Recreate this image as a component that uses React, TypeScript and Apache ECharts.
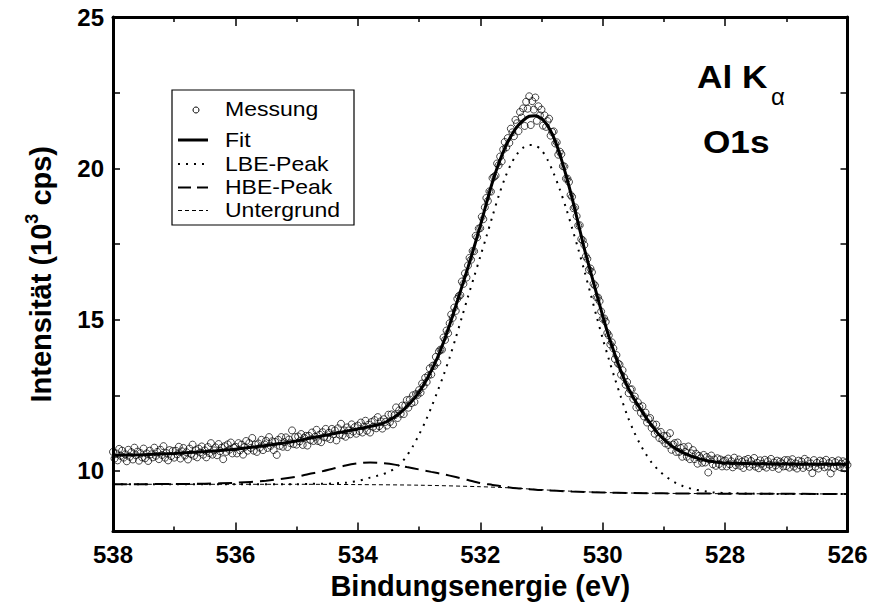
import React, { useEffect, useRef } from "react";
import * as echarts from "echarts";

// ---------- data ----------
// Measured spectrum, recorded every 0.025 eV from 538.000 eV down to 526.000 eV
const MESS_START_EV = 538.0;
const MESS_STEP_EV = 0.025;
const messungV = [
  // 538.000 - 537.025
  10.63, 10.41, 10.58, 10.35, 10.73, 10.50, 10.67, 10.44, 10.55, 10.32, 10.70, 10.47, 10.62, 10.38, 10.77, 10.52, 10.64, 10.34, 10.59, 10.45,
  10.74, 10.42, 10.58, 10.33, 10.67, 10.55, 10.45, 10.77, 10.50, 10.63, 10.39, 10.70, 10.53, 10.82, 10.44, 10.59, 10.35, 10.69, 10.49, 10.66,
  // 537.000 - 536.025
  10.44, 10.67, 10.55, 10.80, 10.41, 10.65, 10.76, 10.51, 10.62, 10.38, 10.74, 10.56, 10.87, 10.50, 10.69, 10.45, 10.74, 10.61, 10.81, 10.54,
  10.68, 10.45, 10.79, 10.59, 10.92, 10.54, 10.68, 10.78, 10.52, 10.89, 10.65, 10.77, 10.39, 10.82, 10.63, 10.88, 10.70, 10.94, 10.58, 10.77,
  // 536.000 - 535.025
  10.80, 10.58, 10.92, 10.68, 10.87, 10.54, 10.79, 10.99, 10.67, 10.92, 10.76, 11.09, 10.67, 10.87, 10.63, 10.91, 10.77, 11.03, 10.69, 10.88,
  11.00, 10.76, 11.12, 10.83, 10.98, 10.69, 10.96, 10.53, 11.03, 10.83, 11.12, 10.80, 10.95, 11.11, 10.79, 11.04, 10.92, 11.34, 10.89, 11.12,
  // 535.000 - 534.025
  10.87, 11.14, 10.98, 11.22, 10.86, 11.09, 11.16, 10.84, 11.16, 11.02, 11.27, 10.99, 11.13, 11.36, 10.99, 11.20, 10.95, 11.28, 11.12, 11.39,
  11.10, 11.26, 11.05, 11.39, 11.21, 11.34, 11.01, 11.41, 11.20, 11.56, 11.18, 11.34, 11.13, 11.44, 11.34, 11.21, 11.54, 11.30, 11.45, 11.23,
  // 534.000 - 533.025
  11.50, 11.32, 11.60, 11.27, 11.47, 11.66, 11.33, 11.53, 11.27, 11.62, 11.46, 11.68, 11.41, 11.78, 11.48, 11.64, 11.40, 11.71, 11.62, 11.50,
  11.86, 11.62, 11.87, 11.54, 11.84, 12.10, 11.75, 12.00, 11.89, 12.16, 11.88, 12.16, 12.34, 12.09, 12.36, 12.24, 12.50, 12.28, 12.54, 12.51,
  // 533.000 - 532.025
  12.67, 12.59, 12.89, 12.81, 13.08, 12.94, 13.15, 13.39, 13.19, 13.48, 13.47, 13.77, 13.59, 13.95, 14.01, 14.01, 14.41, 14.33, 14.64, 14.55,
  14.88, 15.17, 15.06, 15.40, 15.29, 15.69, 15.78, 15.81, 16.26, 16.18, 16.53, 16.39, 16.79, 17.04, 16.98, 17.27, 17.26, 17.77, 17.72, 18.01,
  // 532.000 - 531.025
  18.02, 18.40, 18.32, 18.71, 19.02, 18.92, 19.24, 19.23, 19.68, 19.72, 19.76, 20.16, 20.10, 20.39, 20.23, 20.62, 20.87, 20.69, 21.00, 20.84,
  21.31, 21.19, 21.06, 21.60, 21.49, 21.23, 21.86, 21.68, 21.98, 21.40, 22.20, 21.97, 22.38, 21.43, 22.22, 21.94, 22.34, 21.57, 22.05, 21.75,
  // 531.000 - 530.025
  21.94, 21.41, 21.75, 21.37, 21.56, 21.64, 21.08, 21.20, 21.22, 20.82, 20.86, 20.45, 20.55, 20.47, 20.07, 20.06, 19.66, 19.66, 19.55, 19.12,
  19.06, 18.68, 18.71, 18.42, 18.11, 18.12, 17.66, 17.62, 17.47, 17.09, 17.01, 16.65, 16.69, 16.57, 16.18, 16.13, 15.74, 15.73, 15.61, 15.27,
  // 530.000 - 529.025
  15.03, 15.04, 14.93, 14.56, 14.48, 14.18, 14.25, 14.05, 13.70, 13.83, 13.55, 13.52, 13.18, 13.33, 13.09, 12.85, 12.94, 12.57, 12.69, 12.70,
  12.38, 12.46, 12.10, 12.27, 12.12, 11.92, 12.14, 11.80, 11.93, 11.60, 11.71, 11.75, 11.42, 11.54, 11.23, 11.53, 11.28, 11.09, 11.29, 11.03,
  // 529.000 - 528.025
  11.16, 10.91, 11.15, 10.86, 11.25, 10.70, 10.87, 10.92, 10.63, 10.94, 10.63, 10.76, 10.47, 10.79, 10.63, 10.47, 10.81, 10.39, 10.58, 10.69,
  10.39, 10.57, 10.24, 10.50, 10.42, 10.27, 10.53, 10.28, 10.46, 9.95, 10.38, 10.51, 10.22, 10.38, 10.17, 10.42, 10.23, 10.38, 10.15, 10.33,
  // 528.000 - 527.025
  10.35, 10.15, 10.41, 10.22, 10.32, 10.12, 10.44, 10.19, 10.28, 10.38, 10.17, 10.31, 10.10, 10.36, 10.24, 10.40, 10.14, 10.33, 10.21, 10.43,
  10.14, 10.27, 10.09, 10.35, 10.24, 10.16, 10.37, 10.11, 10.32, 10.21, 10.40, 10.13, 10.28, 10.18, 10.34, 10.07, 10.31, 10.25, 10.15, 10.36,
  // 527.000 - 526.025
  10.16, 10.36, 10.11, 10.28, 10.39, 10.14, 10.25, 10.08, 10.34, 10.19, 10.31, 10.10, 10.40, 10.17, 10.33, 10.12, 10.25, 9.93, 10.36, 10.14,
  10.27, 10.08, 10.34, 10.20, 10.31, 10.12, 10.37, 10.15, 10.26, 9.92, 10.33, 10.10, 10.29, 10.17, 10.35, 10.13, 10.24, 10.32, 10.09, 10.28,
  // 526.000
  10.20,
];

// Energies of the fitted curves (eV)
const curveE = [
  538, 537.5, 537, 536.5, 536, 535.5, 535, 534.8, 534.6,
  534.5, 534.4, 534.3, 534.2, 534.1, 534.0, 533.9, 533.8, 533.7, 533.6,
  533.5, 533.4, 533.3, 533.2, 533.1, 533.0, 532.9, 532.8, 532.7, 532.6,
  532.5, 532.4, 532.3, 532.2, 532.1, 532.0, 531.9, 531.8, 531.7, 531.6,
  531.5, 531.4, 531.3, 531.2, 531.1, 531.0, 530.9, 530.8, 530.7, 530.6,
  530.5, 530.4, 530.3, 530.2, 530.1, 530.0, 529.9, 529.8, 529.7, 529.6,
  529.5, 529.4, 529.3, 529.2, 529.1, 529.0, 528.9, 528.8, 528.7, 528.6,
  528.5, 528.4, 528.3, 528.2, 528.1, 528.0, 527.5, 527, 526.5, 526,
];
const fitV = [
  10.52, 10.54, 10.58, 10.64, 10.72, 10.84, 10.99, 11.08, 11.15,
  11.19, 11.23, 11.27, 11.31, 11.35, 11.39, 11.43, 11.47, 11.51, 11.57,
  11.66, 11.78, 11.94, 12.13, 12.34, 12.61, 12.93, 13.31, 13.74, 14.25,
  14.83, 15.45, 16.09, 16.73, 17.40, 18.10, 18.84, 19.55, 20.15, 20.66,
  21.06, 21.37, 21.58, 21.72, 21.74, 21.64, 21.41, 21.02, 20.46, 19.78,
  19.02, 18.19, 17.35, 16.60, 15.86, 15.13, 14.45, 13.85, 13.29, 12.81,
  12.43, 12.10, 11.79, 11.51, 11.25, 11.04, 10.87, 10.73, 10.62, 10.53,
  10.45, 10.39, 10.34, 10.31, 10.28, 10.26, 10.24, 10.23, 10.22, 10.22,
];
const lbeV = [
  9.56, 9.56, 9.56, 9.56, 9.56, 9.56, 9.56, 9.57, 9.58,
  9.58, 9.59, 9.60, 9.61, 9.64, 9.67, 9.72, 9.78, 9.83, 9.89,
  9.96, 10.08, 10.25, 10.50, 10.82, 11.20, 11.62, 12.10, 12.62, 13.16,
  13.75, 14.40, 15.08, 15.76, 16.42, 17.08, 17.74, 18.42, 19.08, 19.66,
  20.13, 20.47, 20.68, 20.77, 20.75, 20.60, 20.28, 19.83, 19.30, 18.70,
  18.03, 17.34, 16.62, 15.87, 15.11, 14.38, 13.70, 13.05, 12.43, 11.84,
  11.35, 10.93, 10.58, 10.28, 10.05, 9.87, 9.72, 9.60, 9.51, 9.44,
  9.39, 9.35, 9.32, 9.29, 9.28, 9.27, 9.25, 9.24, 9.24, 9.24,
];

const hbeE = [
  538, 537, 536.5, 536, 535.5, 535, 534.8, 534.6, 534.4, 534.2, 534.0, 533.8, 533.6, 533.4, 533.2, 533.0,
  532.8, 532.6, 532.4, 532.2, 532.0, 531.8, 531.6, 531.4, 531.2, 531.0, 530.5, 530, 529.5, 529, 528, 526,
];
const hbeV = [
  9.56, 9.57, 9.58, 9.61, 9.68, 9.81, 9.90, 9.98, 10.08, 10.18, 10.25, 10.28, 10.26, 10.21, 10.13, 10.05,
  9.97, 9.89, 9.80, 9.70, 9.60, 9.54, 9.48, 9.43, 9.40, 9.37, 9.32, 9.29, 9.27, 9.26, 9.25, 9.24,
];

const bgE = [538, 535, 534, 533, 532, 531.5, 531, 530.5, 530, 529.5, 529, 528, 526];
const bgV = [9.56, 9.56, 9.55, 9.53, 9.48, 9.44, 9.38, 9.33, 9.29, 9.27, 9.26, 9.25, 9.24];

const xTicks = { min: 526, max: 538, interval: 2 };
const yTickValues = [10, 12.5, 15, 17.5, 20, 22.5, 25];
const yLabelValues = [10, 15, 20, 25];

const legendLabels = ["Messung", "Fit", "LBE-Peak", "HBE-Peak", "Untergrund"];

// ---------- chart ----------
const FONT = '"Liberation Sans", Arial, Helvetica, sans-serif';

function buildOption() {
  const messData = messungV.map((v, i) => [
    +(MESS_START_EV - i * MESS_STEP_EV).toFixed(3),
    v,
  ]);
  const pairs = (xs: number[], ys: number[]) => xs.map((x, i) => [x, ys[i]]);

  const axisLine = { show: true, onZero: false, lineStyle: { color: "#000", width: 3 } };
  const xCommon = {
    type: "value",
    min: xTicks.min,
    max: xTicks.max,
    interval: xTicks.interval,
    inverse: true,
    axisLine,
    axisTick: { show: true, inside: true, length: 9, lineStyle: { color: "#000", width: 1.5 } },
    minorTick: { show: true, splitNumber: 2, length: 5, lineStyle: { color: "#000", width: 1.5 } },
    splitLine: { show: false },
    minorSplitLine: { show: false },
  };
  const yCommon = {
    type: "value",
    min: 8,
    max: 25,
    axisLine,
    axisTick: {
      show: true,
      inside: true,
      length: 7,
      customValues: yTickValues,
      lineStyle: { color: "#000", width: 1.5 },
    },
    splitLine: { show: false },
  };

  const legendY = [109, 140, 164, 187.5, 210.5];
  const sx1 = 178;
  const sx2 = 208;

  return {
    animation: false,
    backgroundColor: "#ffffff",
    grid: { left: 113, right: 23.5, top: 17, bottom: 76.5 },
    xAxis: [
      {
        ...xCommon,
        position: "bottom",
        axisLabel: {
          color: "#000",
          fontSize: 24,
          fontWeight: "bold",
          fontFamily: FONT,
          margin: 11,
        },
        name: "Bindungsenergie (eV)",
        nameLocation: "middle",
        nameGap: 31,
        nameTextStyle: { color: "#000", fontSize: 29, fontWeight: "bold", fontFamily: FONT },
      },
      {
        ...xCommon,
        position: "top",
        axisLabel: { show: false },
      },
    ],
    yAxis: [
      {
        ...yCommon,
        position: "left",
        axisLabel: {
          color: "#000",
          fontSize: 24,
          fontWeight: "bold",
          fontFamily: FONT,
          margin: 9,
          customValues: yLabelValues,
        },
        name: "{a|Intensität (10}{s|3}{a| cps)}",
        nameLocation: "middle",
        nameGap: 55,
        nameRotate: 90,
        nameTextStyle: {
          color: "#000",
          fontSize: 29,
          fontWeight: "bold",
          fontFamily: FONT,
          rich: {
            a: { color: "#000", fontSize: 29, fontWeight: "bold", fontFamily: FONT, lineHeight: 35 },
            s: { color: "#000", fontSize: 18, fontWeight: "bold", fontFamily: FONT, verticalAlign: "top", lineHeight: 35 },
          },
        },
      },
      {
        ...yCommon,
        position: "right",
        axisLabel: { show: false },
      },
    ],
    series: [
      {
        name: "Messung",
        type: "scatter",
        data: messData,
        symbol: "circle",
        symbolSize: 7,
        silent: true,
        z: 2,
        itemStyle: { color: "rgba(0,0,0,0)", borderColor: "#000", borderWidth: 0.9 },
      },
      {
        name: "Untergrund",
        type: "line",
        data: pairs(bgE, bgV),
        showSymbol: false,
        smooth: 0.3,
        silent: true,
        z: 3,
        lineStyle: { color: "#000", width: 1, type: [4, 3] },
      },
      {
        name: "HBE-Peak",
        type: "line",
        data: pairs(hbeE, hbeV),
        showSymbol: false,
        smooth: 0.3,
        silent: true,
        z: 3,
        lineStyle: { color: "#000", width: 2, type: [14, 7] },
      },
      {
        name: "LBE-Peak",
        type: "line",
        data: pairs(curveE, lbeV),
        showSymbol: false,
        smooth: 0.3,
        silent: true,
        z: 3,
        lineStyle: { color: "#000", width: 2, type: [2, 6] },
      },
      {
        name: "Fit",
        type: "line",
        data: pairs(curveE, fitV),
        showSymbol: false,
        smooth: 0.3,
        silent: true,
        z: 4,
        lineStyle: { color: "#000", width: 3 },
      },
    ],
    graphic: [
      {
        type: "rect",
        shape: { x: 172, y: 90, width: 182, height: 135 },
        style: { fill: "none", stroke: "#000", lineWidth: 1.2 },
        silent: true,
      },
      {
        type: "circle",
        shape: { cx: 196, cy: legendY[0] + 1, r: 3 },
        style: { fill: "none", stroke: "#000", lineWidth: 1 },
        silent: true,
      },
      {
        type: "line",
        shape: { x1: sx1, y1: legendY[1], x2: sx2, y2: legendY[1] },
        style: { stroke: "#000", lineWidth: 3 },
        silent: true,
      },
      {
        type: "line",
        shape: { x1: sx1, y1: legendY[2], x2: sx2, y2: legendY[2] },
        style: { stroke: "#000", lineWidth: 2, lineDash: [2, 6] },
        silent: true,
      },
      {
        type: "line",
        shape: { x1: sx1, y1: legendY[3], x2: sx2, y2: legendY[3] },
        style: { stroke: "#000", lineWidth: 2, lineDash: [13, 6] },
        silent: true,
      },
      {
        type: "line",
        shape: { x1: sx1, y1: legendY[4], x2: sx2, y2: legendY[4] },
        style: { stroke: "#000", lineWidth: 1, lineDash: [4, 3] },
        silent: true,
      },
      ...legendLabels.map((t, i) => ({
        type: "text",
        x: 225,
        y: legendY[i],
        scaleX: 1.15,
        silent: true,
        style: {
          text: t,
          fontSize: 20,
          fontFamily: FONT,
          fill: "#000",
          verticalAlign: "middle",
          align: "left",
        },
      })),
      {
        type: "text",
        x: 697,
        y: 77,
        scaleX: 1.1,
        silent: true,
        style: {
          text: "Al K",
          fontSize: 32,
          fontWeight: "bold",
          fontFamily: FONT,
          fill: "#000",
          verticalAlign: "middle",
          align: "left",
        },
      },
      {
        type: "text",
        x: 771,
        y: 96,
        silent: true,
        style: {
          text: "α",
          fontSize: 24,
          fontFamily: FONT,
          fill: "#000",
          verticalAlign: "middle",
          align: "left",
        },
      },
      {
        type: "text",
        x: 703,
        y: 142,
        scaleX: 1.1,
        silent: true,
        style: {
          text: "O1s",
          fontSize: 32,
          fontWeight: "bold",
          fontFamily: FONT,
          fill: "#000",
          verticalAlign: "middle",
          align: "left",
        },
      },
    ],
  };
}

export default function App() {
  const ref = useRef<HTMLDivElement>(null);
  useEffect(() => {
    document.body.style.margin = "0";
    const chart = echarts.init(ref.current as HTMLDivElement, null, { renderer: "svg" });
    chart.setOption(buildOption() as any);
    return () => chart.dispose();
  }, []);
  return <div ref={ref} style={{ width: 871, height: 608 }} />;
}
